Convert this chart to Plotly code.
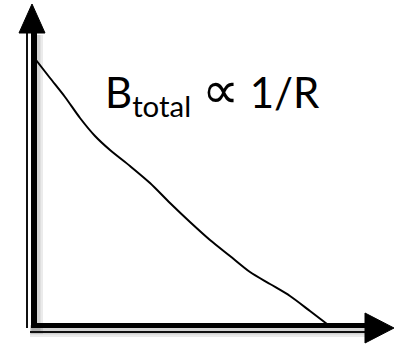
import plotly.graph_objects as go

# Curve data (R, B) in plot units (origin at axes corner)
R_values = [2, 16, 31, 46, 61, 76, 96, 116, 136, 156, 176, 196, 216, 236, 256, 276, 293]
B_values = [265, 247, 228, 207, 189, 175, 159, 142, 122, 103, 85, 69, 53, 41, 29, 14, 1]
label_text = "B<sub>total</sub> <span style='font-size:52px'>∝</span> 1/R"

fig = go.Figure()

shapes = []
# soft shadows
for off, alpha, w in [(3, 0.08, 12), (2, 0.10, 9)]:
    shapes.append(dict(type="line", x0=0 + off, x1=0 + off, y0=290, y1=-6 - off,
                       line=dict(color=f"rgba(0,0,0,{alpha})", width=w)))
    shapes.append(dict(type="line", x0=-4, x1=331, y0=-3 - off, y1=-3 - off,
                       line=dict(color=f"rgba(0,0,0,{alpha})", width=w)))
# vertical axis: thin + thick
shapes.append(dict(type="line", x0=-7, x1=-7, y0=292, y1=-3, line=dict(color="#111", width=2)))
shapes.append(dict(type="line", x0=0, x1=0, y0=292, y1=-3, line=dict(color="black", width=6)))
# horizontal axis: thick + thin
shapes.append(dict(type="line", x0=-3, x1=332, y0=-0.5, y1=-0.5, line=dict(color="black", width=5)))
shapes.append(dict(type="line", x0=-4, x1=332, y0=-7, y1=-7, line=dict(color="#111", width=2)))
# arrowheads
shapes.append(dict(type="path", path="M -15 292 L -2 321 L 11 292 Z",
                   fillcolor="black", line=dict(color="black", width=1)))
shapes.append(dict(type="path", path="M 331 12 L 360 -3 L 331 -18 Z",
                   fillcolor="black", line=dict(color="black", width=1)))

fig.add_trace(go.Scatter(x=R_values, y=B_values, mode="lines",
                         line=dict(color="black", width=2, shape="spline", smoothing=0.8),
                         hoverinfo="skip", showlegend=False))

fig.add_annotation(x=178, y=235, xref="x", yref="y", text=label_text, showarrow=False,
                   xanchor="center", yanchor="middle",
                   font=dict(family="Lato", size=42, color="black"))

fig.update_layout(
    width=399, height=349,
    margin=dict(l=0, r=0, t=0, b=0),
    paper_bgcolor="white", plot_bgcolor="white",
    shapes=shapes,
    xaxis=dict(range=[-34, 365], visible=False, fixedrange=True),
    yaxis=dict(range=[-24, 325], visible=False, fixedrange=True),
    showlegend=False,
)

fig.write_html("out.html", config={"displayModeBar": False},
               post_script="document.body.style.margin='0';document.body.style.overflow='hidden';")
